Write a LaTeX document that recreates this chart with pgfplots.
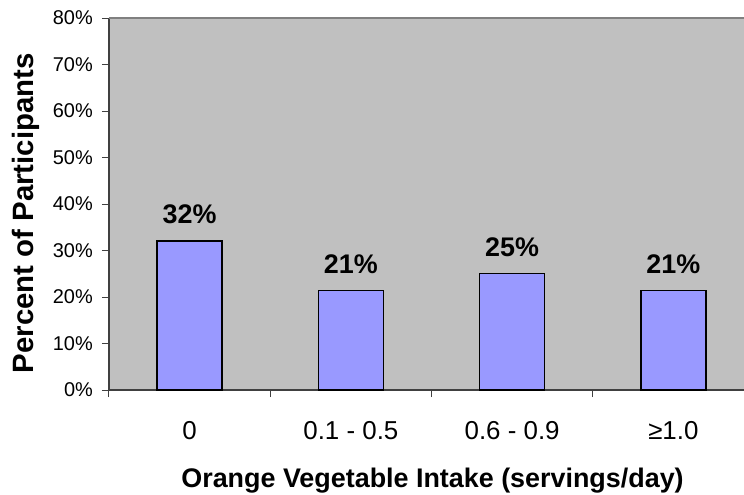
\documentclass[border=0pt]{standalone}
\usepackage{fontspec}
\setmainfont{Liberation Sans}
\usepackage{pgfplots}
\pgfplotsset{compat=1.18}
\definecolor{bgc}{HTML}{C0C0C0}
\definecolor{barc}{HTML}{9999FF}
\definecolor{axc}{HTML}{404040}
\definecolor{topc}{HTML}{808080}
\begin{document}
\begin{tikzpicture}
\begin{axis}[
  at={(0,0)}, anchor=south west,
  scale only axis, width=645bp, height=372bp,
  xmin=-0.5, xmax=3.5, ymin=0, ymax=80,
  clip=false,
  axis background/.style={fill=bgc},
  axis x line*=bottom, axis y line*=left,
  axis line style={draw=axc, line width=1.2bp},
  tick align=outside,
  major tick length=7bp,
  tick style={draw=axc, line width=1bp},
  ytick={0,10,20,30,40,50,60,70,80},
  yticklabels={0\%,10\%,20\%,30\%,40\%,50\%,60\%,70\%,80\%},
  yticklabel style={font=\fontsize{20}{22}\selectfont, anchor=east, inner sep=0pt, xshift=-9bp},
  xtick={-0.5,0.5,1.5,2.5,3.5},
  xticklabels={},
  extra x ticks={0,1,2,3},
  extra x tick labels={0,0.1 - 0.5,0.6 - 0.9,≥1.0},
  extra x tick style={major tick length=0pt, xticklabel style={font=\fontsize{26}{28}\selectfont, anchor=base, inner sep=0pt, yshift=-49bp}},
]
\addplot[ybar, bar width=65bp, fill=barc, draw=black, line width=1.3bp,
  point meta=explicit symbolic, nodes near coords,
  nodes near coords style={font=\bfseries\fontsize{27}{30}\selectfont, anchor=base, inner sep=0pt, yshift=17.5bp, text=black}]
  coordinates {(0,32.05) [32\%] (1,21.35) [21\%] (2,25.05) [25\%] (3,21.35) [21\%]};
\draw[topc, line width=1.2bp] (rel axis cs:0,1) -- (rel axis cs:1,1);
\node[rotate=90, anchor=base, font=\bfseries\fontsize{29.5}{30}\selectfont] at (axis description cs:-0.1178,0.475) {Percent of Participants};
\node[anchor=base, font=\bfseries\fontsize{27}{30}\selectfont] at (axis description cs:0.5016,-0.2608) {Orange Vegetable Intake (servings/day)};
\end{axis}
\pgfresetboundingbox
\useasboundingbox (-109bp,-105bp) rectangle (635bp,390bp);
\end{tikzpicture}
\end{document}
